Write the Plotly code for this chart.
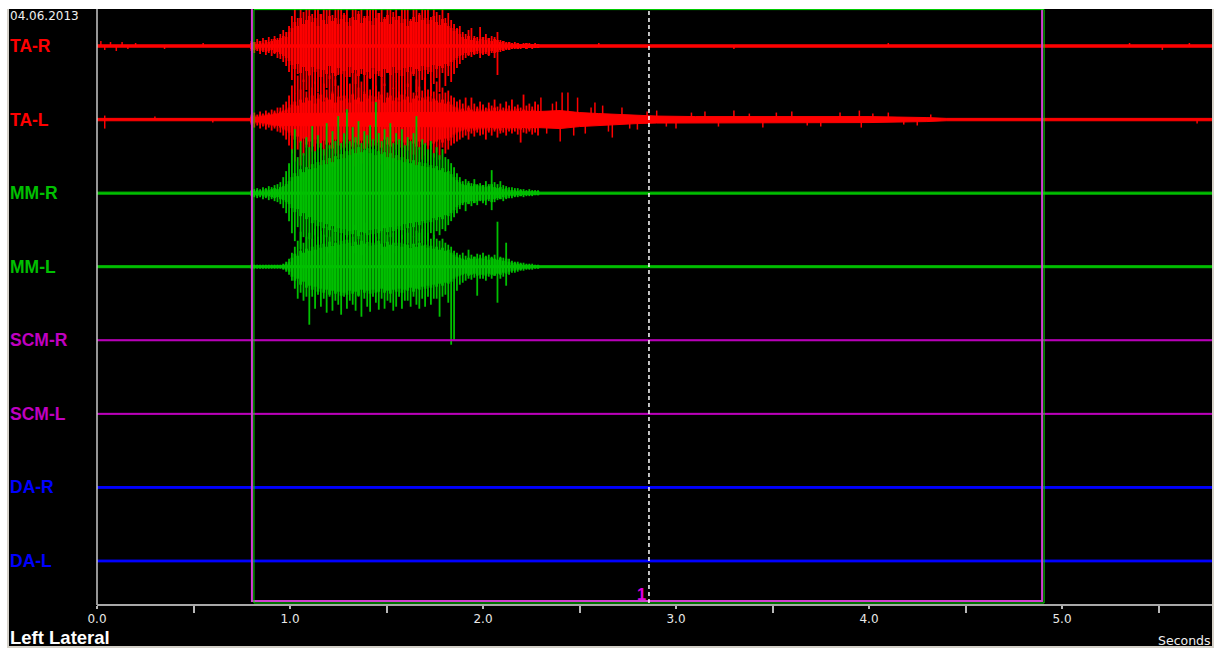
import plotly.graph_objects as go

# ------------------------------------------------------------------ data
CHANNELS = ["TA-R", "TA-L", "MM-R", "MM-L", "SCM-R", "SCM-L", "DA-R", "DA-L"]
COLORS = ["#FF0000", "#FF0000", "#00C000", "#00C000",
          "#C000C0", "#C000C0", "#0000FF", "#0000FF"]
DATE = "04.06.2013"
TEST_NAME = "Left Lateral"
X_UNIT = "Seconds"
T_END = 5.777
X_TICKS = [0, 1, 2, 3, 4, 5]
X_TICK_LABELS = ["0.0", "1.0", "2.0", "3.0", "4.0", "5.0"]
X_MINOR_TICKS = [0.5, 1.5, 2.5, 3.5, 4.5, 5.5]
SELECTION = [0.808, 4.902]
SELECTION_LABEL = "1"
CURSOR_T = 2.86

# background / tail noise envelopes (time s, upper, lower amplitude in a.u.)
TA_R_T = [0.00, 5.777]
TA_R_UP = [1.2, 1.2]
TA_R_LO = [-1.2, -1.2]
TA_L_T = [0.00, 0.80, 0.95, 2.28, 2.40, 2.50, 2.60, 2.70, 2.80, 2.90, 3.10, 3.40, 3.70, 4.00, 4.30, 4.40, 5.777]
TA_L_UP = [1.2, 1.2, 6, 8, 9, 7, 6, 5, 4, 3.5, 3, 3, 3, 3, 2, 1.2, 1.2]
TA_L_LO = [-1.2, -1.2, -6, -8, -9, -7, -6, -5, -4, -3.5, -3, -3, -3, -3, -2, -1.2, -1.2]
MM_R_T = [0.00, 5.777]
MM_R_UP = [1.0, 1.0]
MM_R_LO = [-1.0, -1.0]
MM_L_T = [0.00, 5.777]
MM_L_UP = [1.0, 1.0]
MM_L_LO = [-1.0, -1.0]
QUIET_T = [0.00, 5.777]
SCM_R_UP = [0.5, 0.5]
SCM_R_LO = [-0.5, -0.5]
SCM_L_UP = [0.5, 0.5]
SCM_L_LO = [-0.5, -0.5]
DA_R_UP = [0.9, 0.9]
DA_R_LO = [-0.9, -0.9]
DA_L_UP = [0.9, 0.9]
DA_L_LO = [-0.9, -0.9]

# burst, per 15 ms bin starting at BURST_T0: dense core range and peak range (a.u.)
BURST_T0 = 0.80
BURST_DT = 0.015

TA_R_CORE_UP = [3, 4, 2, 5, 3, 6, 4, 5, 7, 6,
                8, 10, 9, 14, 18, 24, 20, 28, 22, 26,
                30, 24, 28, 20, 32, 26, 22, 30, 25, 28,
                22, 27, 31, 24, 20, 29, 26, 32, 23, 28,
                30, 25, 21, 28, 33, 24, 27, 31, 22, 29,
                26, 30, 23, 27, 20, 25, 29, 24, 31, 26,
                28, 22, 26, 30, 24, 21, 27, 23, 20, 18,
                15, 17, 12, 9, 7, 10, 6, 8, 5, 7,
                9, 6, 8, 5, 7, 6, 4, 5, 3, 4,
                3, 2, 3, 2, 2, 3, 2, 2, 2, 2]
TA_R_CORE_LO = [-3, -4, -3, -5, -4, -6, -5, -4, -7, -6,
                -8, -10, -12, -15, -19, -23, -18, -27, -21, -25,
                -29, -21, -26, -23, -31, -24, -28, -20, -27, -30,
                -22, -28, -25, -31, -21, -27, -24, -30, -23, -29,
                -26, -32, -22, -28, -25, -31, -23, -27, -29, -21,
                -27, -24, -30, -22, -26, -21, -28, -23, -25, -20,
                -24, -21, -26, -19, -23, -20, -22, -18, -20, -16,
                -14, -12, -10, -9, -7, -9, -6, -8, -5, -7,
                -8, -6, -9, -5, -7, -6, -4, -5, -3, -4,
                -3, -2, -3, -2, -2, -3, -2, -2, -2, -2]
TA_R_PEAK_UP = [5, 4, 7, 5, 8, 6, 9, 7, 10, 8,
                12, 16, 14, 20, 30, 40, 28, 40, 34, 40,
                40, 32, 40, 40, 29, 40, 36, 40, 31, 40,
                40, 40, 33, 40, 28, 40, 40, 35, 40, 30,
                40, 36, 40, 40, 31, 40, 29, 40, 40, 34,
                40, 30, 40, 38, 40, 27, 40, 40, 33, 40,
                36, 40, 29, 40, 34, 31, 40, 28, 33, 26,
                22, 18, 20, 14, 12, 16, 18, 10, 9, 19,
                8, 12, 7, 10, 9, 14, 6, 5, 4, 3,
                3, 4, 3, 2, 3, 2, 3, 2, 3, 2]
TA_R_PEAK_LO = [-5, -7, -5, -8, -6, -9, -7, -10, -8, -12,
                -13, -16, -20, -26, -34, -48, -28, -56, -36, -44,
                -30, -60, -38, -46, -27, -54, -42, -33, -62, -40,
                -29, -52, -45, -64, -31, -50, -38, -58, -28, -47,
                -55, -33, -44, -60, -30, -52, -40, -26, -58, -43,
                -36, -54, -29, -48, -41, -57, -30, -46, -52, -34,
                -44, -28, -50, -38, -32, -46, -27, -40, -30, -36,
                -28, -22, -18, -14, -12, -10, -11, -9, -8, -12,
                -9, -8, -10, -7, -12, -29, -6, -5, -4, -3,
                -3, -3, -2, -3, -2, -3, -2, -3, -2, -2]

TA_L_CORE_UP = [3, 4, 3, 5, 4, 5, 6, 5, 7, 6,
                8, 9, 10, 12, 15, 18, 14, 20, 17, 22,
                19, 24, 16, 21, 25, 18, 22, 20, 26, 17,
                23, 19, 24, 21, 17, 25, 20, 22, 18, 26,
                21, 24, 18, 23, 20, 25, 17, 22, 24, 19,
                22, 18, 25, 20, 23, 17, 21, 24, 19, 22,
                20, 23, 18, 21, 19, 17, 20, 16, 18, 15,
                13, 12, 10, 11, 9, 12, 10, 8, 11, 9,
                10, 8, 11, 9, 12, 8, 10, 9, 11, 8,
                10, 9, 11, 8, 10, 9, 8, 10, 9, 8]
TA_L_CORE_LO = [-3, -4, -3, -5, -4, -6, -5, -6, -7, -6,
                -8, -10, -11, -13, -16, -20, -17, -23, -19, -25,
                -22, -27, -20, -24, -28, -21, -25, -23, -29, -20,
                -26, -22, -28, -24, -20, -27, -23, -25, -21, -29,
                -24, -27, -21, -26, -23, -28, -20, -25, -27, -22,
                -25, -21, -28, -23, -26, -20, -24, -27, -22, -25,
                -23, -26, -21, -24, -22, -20, -23, -19, -21, -18,
                -15, -13, -12, -11, -10, -12, -9, -11, -10, -9,
                -10, -9, -11, -8, -10, -9, -11, -8, -10, -9,
                -10, -8, -9, -10, -8, -9, -10, -8, -9, -8]
TA_L_PEAK_UP = [5, 7, 5, 8, 6, 9, 7, 10, 9, 12,
                12, 15, 18, 24, 34, 26, 44, 30, 40, 28,
                46, 32, 38, 27, 50, 36, 30, 44, 28, 40,
                34, 48, 29, 42, 36, 26, 46, 32, 38, 28,
                44, 30, 50, 34, 28, 42, 36, 27, 46, 32,
                38, 28, 44, 30, 36, 48, 27, 40, 33, 29,
                42, 30, 36, 28, 38, 26, 32, 27, 29, 24,
                22, 18, 20, 16, 22, 14, 22, 16, 13, 18,
                15, 12, 17, 14, 20, 13, 16, 12, 18, 14,
                20, 13, 15, 12, 25, 14, 16, 13, 18, 15]
TA_L_PEAK_LO = [-5, -8, -6, -9, -7, -10, -8, -11, -9, -12,
                -13, -16, -20, -26, -34, -42, -30, -46, -36, -28,
                -48, -32, -40, -30, -50, -36, -44, -29, -47, -34,
                -38, -30, -52, -36, -42, -31, -47, -35, -44, -30,
                -46, -33, -49, -30, -40, -45, -32, -50, -36, -42,
                -30, -44, -38, -48, -31, -42, -35, -46, -30, -40,
                -36, -42, -30, -38, -33, -40, -28, -34, -30, -26,
                -24, -22, -20, -18, -16, -20, -14, -17, -13, -16,
                -15, -20, -13, -16, -12, -18, -14, -13, -16, -12,
                -14, -12, -15, -23, -13, -14, -12, -15, -13, -16]

MM_R_CORE_UP = [2, 2, 3, 2, 3, 4, 3, 4, 5, 4,
                6, 7, 9, 12, 16, 20, 17, 24, 21, 26,
                24, 29, 25, 31, 28, 33, 29, 35, 31, 37,
                34, 39, 35, 42, 38, 44, 40, 46, 41, 43,
                45, 40, 44, 38, 42, 39, 41, 36, 40, 35,
                38, 33, 36, 31, 34, 30, 33, 28, 31, 27,
                30, 26, 28, 25, 27, 23, 25, 21, 22, 19,
                16, 13, 11, 9, 8, 10, 7, 9, 8, 7,
                8, 6, 7, 9, 6, 5, 6, 4, 5, 3,
                3, 3, 2, 3, 2, 2, 2, 2, 2, 2]
MM_R_CORE_LO = [-2, -2, -3, -2, -3, -4, -3, -4, -5, -4,
                -6, -7, -9, -11, -15, -19, -16, -23, -20, -26,
                -24, -30, -27, -33, -29, -35, -31, -37, -33, -39,
                -35, -40, -36, -42, -38, -41, -37, -43, -39, -40,
                -42, -37, -41, -36, -40, -38, -35, -39, -34, -38,
                -36, -33, -37, -31, -35, -30, -34, -29, -32, -28,
                -30, -27, -29, -25, -27, -24, -26, -22, -23, -20,
                -17, -14, -12, -10, -9, -11, -8, -10, -8, -7,
                -8, -7, -6, -9, -6, -5, -6, -4, -5, -3,
                -3, -3, -2, -3, -2, -2, -2, -2, -2, -2]
MM_R_PEAK_UP = [3, 4, 5, 4, 6, 5, 7, 6, 8, 9,
                11, 16, 22, 30, 44, 64, 36, 52, 40, 56,
                46, 67, 42, 58, 50, 44, 70, 48, 62, 52,
                77, 50, 60, 84, 52, 66, 56, 72, 50, 62,
                58, 68, 54, 91, 60, 52, 64, 56, 70, 50,
                60, 54, 64, 48, 56, 52, 60, 77, 46, 54,
                50, 44, 52, 40, 46, 38, 44, 36, 34, 30,
                26, 20, 16, 12, 14, 12, 10, 14, 9, 10,
                8, 12, 9, 23, 11, 9, 12, 8, 7, 6,
                6, 5, 5, 4, 4, 3, 4, 3, 3, 3]
MM_R_PEAK_LO = [-3, -4, -5, -4, -6, -5, -7, -6, -8, -9,
                -11, -15, -20, -28, -40, -48, -34, -56, -44, -60,
                -46, -62, -42, -58, -50, -66, -44, -60, -52, -48,
                -64, -50, -58, -44, -66, -52, -60, -46, -62, -54,
                -48, -66, -52, -58, -46, -62, -50, -56, -44, -60,
                -52, -58, -46, -56, -50, -54, -44, -52, -48, -50,
                -44, -48, -40, -46, -38, -42, -36, -38, -32, -28,
                -24, -20, -16, -12, -18, -10, -13, -9, -12, -8,
                -10, -12, -8, -17, -9, -7, -6, -8, -6, -5,
                -5, -4, -4, -3, -4, -3, -3, -3, -2, -2]

MM_L_CORE_UP = [1, 1, 1, 1, 1, 1, 1, 1, 1, 1,
                1, 2, 3, 5, 9, 13, 11, 16, 14, 18,
                16, 20, 17, 22, 19, 23, 20, 25, 21, 24,
                22, 26, 23, 27, 24, 21, 25, 22, 26, 23,
                25, 21, 24, 22, 26, 23, 20, 25, 22, 24,
                21, 24, 20, 23, 22, 19, 23, 20, 24, 21,
                22, 19, 21, 18, 20, 17, 19, 16, 17, 14,
                12, 10, 9, 8, 7, 9, 8, 10, 8, 9,
                8, 10, 7, 9, 8, 7, 9, 6, 8, 5,
                4, 4, 3, 3, 2, 2, 2, 1.5, 1.5, 1.5]
MM_L_CORE_LO = [-1, -1, -1, -1, -1, -1, -1, -1, -1, -1,
                -1, -2, -3, -5, -10, -14, -12, -18, -15, -21,
                -19, -23, -20, -25, -22, -26, -23, -28, -24, -27,
                -25, -29, -26, -28, -24, -27, -25, -29, -23, -26,
                -24, -27, -23, -26, -25, -22, -26, -24, -27, -23,
                -25, -22, -26, -23, -24, -21, -25, -22, -23, -20,
                -22, -19, -21, -18, -20, -17, -19, -16, -17, -15,
                -12, -10, -9, -8, -7, -9, -8, -7, -9, -8,
                -8, -9, -7, -8, -9, -7, -8, -6, -7, -5,
                -4, -4, -3, -3, -2, -2, -2, -1.5, -1.5, -1.5]
MM_L_PEAK_UP = [2, 2, 2, 2, 2, 2, 2, 2, 2, 2,
                2, 3, 5, 8, 14, 20, 26, 35, 24, 30,
                34, 28, 38, 30, 36, 32, 40, 30, 38, 34,
                42, 32, 40, 36, 44, 30, 42, 36, 32, 44,
                38, 34, 42, 30, 40, 36, 42, 32, 40, 34,
                38, 42, 32, 38, 34, 40, 30, 36, 34, 38,
                30, 34, 28, 32, 28, 26, 28, 24, 22, 20,
                16, 14, 12, 14, 11, 17, 12, 10, 13, 12,
                14, 11, 12, 10, 12, 45, 10, 9, 24, 8,
                6, 5, 5, 4, 4, 3, 3, 3, 2, 2]
MM_L_PEAK_LO = [-2, -2, -2, -2, -2, -2, -2, -2, -2, -2,
                -2, -3, -5, -8, -14, -22, -32, -26, -34, -30,
                -58, -30, -42, -28, -40, -32, -46, -30, -44, -34,
                -38, -48, -30, -42, -34, -38, -44, -30, -50, -32,
                -40, -45, -30, -36, -43, -32, -42, -34, -36, -44,
                -40, -30, -42, -34, -34, -40, -30, -38, -42, -32,
                -40, -30, -38, -32, -32, -50, -30, -28, -36, -78,
                -73, -24, -18, -16, -14, -12, -13, -11, -29, -12,
                -12, -14, -10, -12, -9, -36, -12, -10, -19, -8,
                -6, -6, -5, -4, -4, -3, -3, -3, -2, -2]

# isolated spikes outside the burst window (time s, peak amplitude a.u.)
TA_R_SPK_T = [0.02, 0.04, 0.07, 0.10, 0.13, 0.16, 0.20, 0.35, 0.55, 2.60, 3.30, 4.10, 5.35, 5.52, 5.66]
TA_R_SPK_A = [5, -4, 4, -5, 4, -3, 3, -3, 3, 3, -3, 3, 3, -4, 3]
TA_L_SPK_T = [0.04, 0.04, 0.30, 0.60,
              2.30, 2.33, 2.36, 2.38, 2.40, 2.41, 2.44, 2.47, 2.49, 2.53, 2.56, 2.58,
              2.62, 2.65, 2.67, 2.72, 2.76, 2.80, 2.85, 2.90, 2.95, 3.00, 3.08, 3.15,
              3.22, 3.30, 3.38, 3.45, 3.52, 3.60, 3.68, 3.75, 3.85, 3.95, 3.96, 4.02,
              4.10, 4.18, 4.25, 4.32, 5.70]
TA_L_SPK_A = [-9, 4, 3, -3,
              22, -14, 16, 18, -22, 27, 27, -16, 22, -14, 12, 17,
              14, -12, -18, 12, -9, -10, 8, 9, -7, -9, 7, 8,
              -7, 9, 6, -8, 7, 8, -6, -7, 7, 9, -8, 6,
              7, -5, -6, 5, -4]

ENVELOPES = {
    "TA-R": (TA_R_T, TA_R_UP, TA_R_LO),
    "TA-L": (TA_L_T, TA_L_UP, TA_L_LO),
    "MM-R": (MM_R_T, MM_R_UP, MM_R_LO),
    "MM-L": (MM_L_T, MM_L_UP, MM_L_LO),
    "SCM-R": (QUIET_T, SCM_R_UP, SCM_R_LO),
    "SCM-L": (QUIET_T, SCM_L_UP, SCM_L_LO),
    "DA-R": (QUIET_T, DA_R_UP, DA_R_LO),
    "DA-L": (QUIET_T, DA_L_UP, DA_L_LO),
}
BURSTS = {
    "TA-R": (TA_R_CORE_UP, TA_R_CORE_LO, TA_R_PEAK_UP, TA_R_PEAK_LO),
    "TA-L": (TA_L_CORE_UP, TA_L_CORE_LO, TA_L_PEAK_UP, TA_L_PEAK_LO),
    "MM-R": (MM_R_CORE_UP, MM_R_CORE_LO, MM_R_PEAK_UP, MM_R_PEAK_LO),
    "MM-L": (MM_L_CORE_UP, MM_L_CORE_LO, MM_L_PEAK_UP, MM_L_PEAK_LO),
}
SPIKES = {
    "TA-R": (TA_R_SPK_T, TA_R_SPK_A),
    "TA-L": (TA_L_SPK_T, TA_L_SPK_A),
}

# ------------------------------------------------------------------ geometry
W, H = 1220, 648
ML, MR, MT, MB = 9, 8, 9, 43
PW, PH = W - ML - MR, H - MT - MB
PX_PER_S = 193.0
X0 = -(97 - ML) / PX_PER_S
X1 = X0 + PW / PX_PER_S
LANE = 73.57            # vertical spacing of channels (a.u., 1 a.u. = 1 px)
Y_TOP = 46 - MT
Y_BOT = Y_TOP - PH
PX = 1.0 / PX_PER_S


def px_x(px):
    return (px - ML) / PW


def px_y(py):
    return (MT + PH - py) / PH


def segs(ts, lows, highs):
    xs, ys = [], []
    for tt, a, b in zip(ts, lows, highs):
        xs += [tt, tt, None]
        ys += [a, b, None]
    return xs, ys


fig = go.Figure()

for k, name in enumerate(CHANNELS):
    col = COLORS[k]
    off = -k * LANE
    t, up, lo = ENVELOPES[name]
    xs = list(t) + list(t)[::-1]
    ys = [off + u for u in up] + [off + v for v in lo][::-1]
    fig.add_trace(go.Scatter(x=xs, y=ys, mode="lines", fill="toself", fillcolor=col,
                             line=dict(color=col, width=1), hoverinfo="skip", showlegend=False))
    if name in BURSTS:
        cu, cl, pu, pl = BURSTS[name]
        bt = [BURST_T0 + i * BURST_DT for i in range(len(cu))]
        xs, ys = segs(bt, [off + v for v in pl], [off + u for u in pu])
        fig.add_trace(go.Scatter(x=xs, y=ys, mode="lines", line=dict(color=col, width=1.8),
                                 hoverinfo="skip", showlegend=False))
        xs, ys = segs(bt, [off + v for v in cl], [off + u for u in cu])
        fig.add_trace(go.Scatter(x=xs, y=ys, mode="lines", line=dict(color=col, width=2.7),
                                 hoverinfo="skip", showlegend=False))
    if name in SPIKES:
        st, sa = SPIKES[name]
        xs, ys = segs(st, [off] * len(st), [off + a for a in sa])
        fig.add_trace(go.Scatter(x=xs, y=ys, mode="lines", line=dict(color=col, width=1.5),
                                 hoverinfo="skip", showlegend=False))

shapes = []
# zero-time vertical line and time axis line
shapes.append(dict(type="line", xref="x", yref="paper", x0=0, x1=0, y0=0, y1=1,
                   line=dict(color="#C8C8C8", width=1.5)))
shapes.append(dict(type="line", xref="x", yref="paper", x0=0, x1=X1, y0=0, y1=0,
                   line=dict(color="#A8A8A8", width=1.8)))
# selection box (magenta with inner green)
shapes.append(dict(type="rect", xref="x", yref="y", x0=SELECTION[0] - 1.0 * PX, x1=SELECTION[1] - 1.0 * PX,
                   y0=Y_BOT + 4.0, y1=Y_TOP + 2, line=dict(color="#D040D0", width=2)))
shapes.append(dict(type="rect", xref="x", yref="y", x0=SELECTION[0] + 1.0 * PX,
                   x1=SELECTION[1] + 1.0 * PX, y0=Y_BOT + 2.0, y1=Y_TOP - 0.6,
                   line=dict(color="#00E000", width=1.0)))
# cursor
shapes.append(dict(type="line", xref="x", yref="y", x0=CURSOR_T, x1=CURSOR_T, y0=Y_BOT + 2, y1=Y_TOP,
                   line=dict(color="#FFFFFF", width=1.5, dash="4px,3px")))
# window frame (white page edge and grey border)
for (a, b, c, d, colr) in [
        (0, W, 0, MT, "#FFFFFF"),
        (0, 7, 0, H, "#FFFFFF"),
        (7, ML, MT, H, "#D4D0C8"),
        (ML + PW, ML + PW + 2, MT, H, "#D4D0C8"),
        (ML + PW + 2, W, 0, H, "#FFFFFF"),
        (7, ML + PW + 2, 646, H, "#D4D0C8")]:
    shapes.append(dict(type="rect", xref="paper", yref="paper", x0=px_x(a), x1=px_x(b),
                       y0=px_y(d), y1=px_y(c), fillcolor=colr, line=dict(width=0), layer="above"))

annotations = []
for k, name in enumerate(CHANNELS):
    annotations.append(dict(text="<b>%s</b>" % name, xref="paper", yref="y", x=px_x(8), y=-k * LANE,
                            xanchor="left", yanchor="middle", showarrow=False,
                            font=dict(family="Liberation Sans", size=17.5, color=COLORS[k])))
annotations.append(dict(text=DATE, xref="paper", yref="paper", x=px_x(8), y=px_y(16.5),
                        xanchor="left", yanchor="middle", showarrow=False,
                        font=dict(family="DejaVu Sans", size=12, color="#F0F0F0")))
annotations.append(dict(text="<b>%s</b>" % TEST_NAME, xref="paper", yref="paper", x=px_x(8), y=px_y(637.5),
                        xanchor="left", yanchor="middle", showarrow=False,
                        font=dict(family="Liberation Sans", size=18.5, color="#FFFFFF")))
annotations.append(dict(text=X_UNIT, xref="paper", yref="paper", x=px_x(1213), y=px_y(640.5),
                        xanchor="right", yanchor="middle", showarrow=False,
                        font=dict(family="DejaVu Sans", size=12.5, color="#F0F0F0")))
annotations.append(dict(text="<b>%s</b>" % SELECTION_LABEL, xref="x", yref="y",
                        x=(SELECTION[0] + SELECTION[1]) / 2, y=Y_BOT + 11.5,
                        xanchor="right", yanchor="middle", showarrow=False,
                        font=dict(family="Liberation Sans", size=16.5, color="#E000E0")))

fig.update_layout(
    width=W, height=H,
    margin=dict(l=ML, r=MR, t=MT, b=MB, pad=0),
    paper_bgcolor="#000000", plot_bgcolor="#000000",
    showlegend=False,
    shapes=shapes, annotations=annotations,
    xaxis=dict(range=[X0, X1], showgrid=False, zeroline=False, showline=False,
               tickmode="array", tickvals=X_TICKS, ticktext=X_TICK_LABELS,
               ticks="outside", ticklen=3, tickwidth=1.5, tickcolor="#B8B8B8",
               tickfont=dict(family="DejaVu Sans", size=12, color="#E8E8E8"),
               minor=dict(tickvals=X_MINOR_TICKS, ticks="outside", ticklen=7, tickwidth=1.5,
                          tickcolor="#B8B8B8", showgrid=False),
               fixedrange=True),
    yaxis=dict(range=[Y_BOT, Y_TOP], visible=False, fixedrange=True),
)

fig.write_html("out.html", config=dict(displayModeBar=False))
